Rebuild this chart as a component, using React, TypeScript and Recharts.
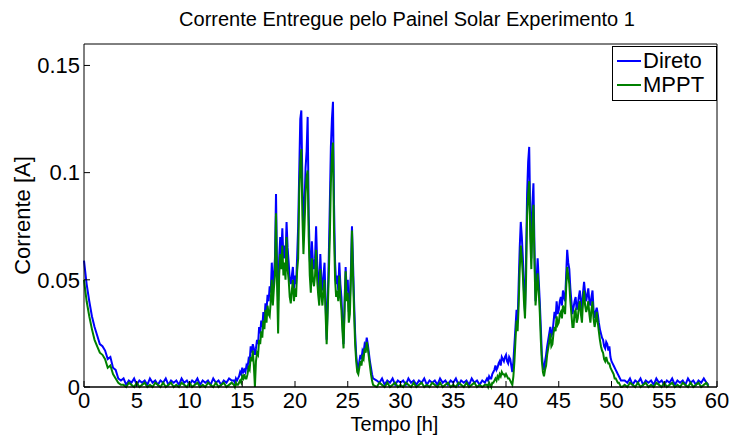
import React from 'react';
import { LineChart, Line, XAxis, YAxis, Legend, Label } from 'recharts';

// ---- Data ----
const hoursA = [0, 0.25, 0.5, 0.75, 1, 1.25, 1.5, 1.75, 2, 2.25, 2.5, 2.75, 3, 3.25, 3.5];
const diretoA = [0.059, 0.048, 0.04, 0.033, 0.028, 0.024, 0.02, 0.019, 0.017, 0.013, 0.014, 0.009, 0.008, 0.004, 0.003];
const mpptA = [0.05, 0.04, 0.033, 0.027, 0.022, 0.019, 0.016, 0.015, 0.013, 0.009, 0.01, 0.006, 0.004, 0.002, 0.001];

const hoursB = [
  3.75, 4, 4.25, 4.5, 4.75, 5, 5.25, 5.5, 5.75, 6, 6.25, 6.5, 6.75, 7, 7.25, 7.5, 7.75, 8, 8.25, 8.5, 8.75,
  9, 9.25, 9.5, 9.75, 10, 10.25, 10.5, 10.75, 11, 11.25, 11.5, 11.75, 12, 12.25, 12.5, 12.75, 13, 13.25, 13.5, 13.75, 14,
];
const diretoB = [
  0.004, 0.001, 0.003, 0.002, 0.004, 0.001, 0.003, 0.002, 0.003, 0.001, 0.004, 0.002, 0.003, 0.001, 0.003, 0.002, 0.004, 0.001, 0.003, 0.002, 0.003,
  0.001, 0.004, 0.002, 0.003, 0.001, 0.003, 0.002, 0.004, 0.001, 0.003, 0.002, 0.003, 0.001, 0.004, 0.002, 0.003, 0.001, 0.003, 0.002, 0.004, 0.003,
];
const mpptB = [
  0.001, 0.0, 0.002, 0.001, 0.0, 0.002, 0.0, 0.001, 0.002, 0.0, 0.001, 0.0, 0.002, 0.001, 0.0, 0.002, 0.0, 0.001, 0.002, 0.0, 0.001,
  0.0, 0.002, 0.001, 0.0, 0.002, 0.0, 0.001, 0.002, 0.0, 0.001, 0.0, 0.002, 0.001, 0.0, 0.002, 0.0, 0.001, 0.002, 0.0, 0.001, 0.002,
];

const hoursC = [
  14.2, 14.3, 14.4, 14.5, 14.6, 14.7, 14.8, 14.9, 15.0, 15.1, 15.2, 15.3, 15.4, 15.5, 15.6, 15.7, 15.8, 15.9, 16.0, 16.1,
  16.2, 16.3, 16.4, 16.5, 16.6, 16.7, 16.8, 16.9, 17.0, 17.1, 17.2, 17.3, 17.4, 17.5, 17.6, 17.7, 17.8, 17.9, 18.0, 18.1,
  18.2, 18.3, 18.4, 18.5, 18.6, 18.7, 18.8, 18.9, 19.0, 19.1, 19.2, 19.3, 19.4, 19.5, 19.6, 19.7, 19.8, 19.9, 20.0, 20.1,
  20.2, 20.3, 20.4, 20.5, 20.6, 20.7, 20.8, 20.9, 21.0, 21.1, 21.2, 21.3, 21.4, 21.5, 21.6, 21.7, 21.8, 21.9, 22.0, 22.1,
  22.2, 22.3, 22.4, 22.5, 22.6, 22.7, 22.8, 22.9, 23.0, 23.1, 23.2, 23.3, 23.4, 23.5, 23.6, 23.7, 23.8, 23.9, 24.0, 24.1,
  24.2, 24.3, 24.4, 24.5, 24.6, 24.7, 24.8, 24.9, 25.0, 25.1, 25.2, 25.3, 25.4, 25.5, 25.6, 25.7, 25.8, 25.9, 26.0, 26.1,
  26.2, 26.3, 26.4, 26.5, 26.6, 26.7, 26.8, 26.9, 27.0, 27.1, 27.2, 27.3, 27.4,
];
const diretoC = [
  0.003, 0.002, 0.004, 0.003, 0.004, 0.005, 0.007, 0.006, 0.009, 0.007, 0.008, 0.007, 0.01, 0.009, 0.013, 0.012, 0.019, 0.016, 0.02, 0.018,
  0.015, 0.018, 0.022, 0.02, 0.028, 0.025, 0.031, 0.028, 0.035, 0.031, 0.039, 0.036, 0.043, 0.04, 0.047, 0.044, 0.058, 0.045, 0.052, 0.06,
  0.09, 0.055, 0.04, 0.06, 0.07, 0.062, 0.074, 0.06, 0.066, 0.06, 0.077, 0.065, 0.058, 0.05, 0.048, 0.052, 0.056, 0.046, 0.052, 0.048,
  0.06, 0.075, 0.1, 0.125, 0.129, 0.095, 0.073, 0.085, 0.102, 0.11, 0.126, 0.08, 0.06, 0.05, 0.068, 0.058, 0.055, 0.06, 0.075, 0.058,
  0.05, 0.045, 0.062, 0.05, 0.045, 0.052, 0.058, 0.04, 0.022, 0.04, 0.06, 0.085, 0.112, 0.125, 0.133, 0.085, 0.058, 0.048, 0.052, 0.045,
  0.058, 0.048, 0.042, 0.03, 0.02, 0.04, 0.056, 0.045, 0.05, 0.035, 0.04, 0.055, 0.075, 0.058, 0.04, 0.025, 0.015, 0.01, 0.008, 0.012,
  0.015, 0.013, 0.017, 0.016, 0.02, 0.019, 0.023, 0.02, 0.016, 0.012, 0.009, 0.006, 0.004,
];
const mpptC = [
  0.001, 0.0, 0.002, 0.001, 0.001, 0.002, 0.003, 0.002, 0.005, 0.004, 0.006, 0.004, 0.004, 0.006, 0.009, 0.008, 0.014, 0.012, 0.017, 0.01,
  0.0, 0.012, 0.016, 0.015, 0.022, 0.02, 0.026, 0.023, 0.031, 0.027, 0.036, 0.03, 0.038, 0.034, 0.033, 0.04, 0.05, 0.038, 0.046, 0.052,
  0.081, 0.048, 0.025, 0.052, 0.062, 0.055, 0.066, 0.052, 0.058, 0.05, 0.07, 0.055, 0.05, 0.042, 0.039, 0.045, 0.05, 0.04, 0.046, 0.042,
  0.054, 0.06, 0.09, 0.105, 0.111, 0.08, 0.062, 0.075, 0.09, 0.098, 0.101, 0.07, 0.052, 0.044, 0.06, 0.05, 0.047, 0.052, 0.064, 0.05,
  0.043, 0.038, 0.055, 0.043, 0.038, 0.045, 0.05, 0.034, 0.02, 0.035, 0.052, 0.07, 0.095, 0.108, 0.114, 0.072, 0.05, 0.042, 0.045, 0.04,
  0.052, 0.042, 0.036, 0.026, 0.018, 0.036, 0.054, 0.04, 0.044, 0.03, 0.034, 0.05, 0.073, 0.052, 0.035, 0.02, 0.012, 0.007, 0.006, 0.009,
  0.012, 0.01, 0.014, 0.013, 0.018, 0.016, 0.021, 0.018, 0.014, 0.01, 0.006, 0.003, 0.001,
];

const hoursD = [
  27.75, 28, 28.25, 28.5, 28.75, 29, 29.25, 29.5, 29.75, 30, 30.25, 30.5, 30.75, 31, 31.25, 31.5, 31.75, 32, 32.25, 32.5, 32.75,
  33, 33.25, 33.5, 33.75, 34, 34.25, 34.5, 34.75, 35, 35.25, 35.5, 35.75, 36, 36.25, 36.5, 36.75, 37, 37.25, 37.5, 37.75, 38,
];
const diretoD = [
  0.003, 0.002, 0.004, 0.001, 0.003, 0.002, 0.004, 0.001, 0.003, 0.002, 0.003, 0.001, 0.004, 0.002, 0.003, 0.001, 0.003, 0.002, 0.004, 0.001, 0.003,
  0.002, 0.003, 0.001, 0.004, 0.002, 0.003, 0.001, 0.003, 0.002, 0.004, 0.001, 0.003, 0.002, 0.003, 0.001, 0.004, 0.002, 0.003, 0.001, 0.003, 0.002,
];
const mpptD = [
  0.0, 0.002, 0.001, 0.0, 0.002, 0.0, 0.001, 0.002, 0.0, 0.001, 0.0, 0.002, 0.001, 0.0, 0.002, 0.0, 0.001, 0.002, 0.0, 0.001, 0.0,
  0.002, 0.001, 0.0, 0.002, 0.0, 0.001, 0.002, 0.0, 0.001, 0.0, 0.002, 0.001, 0.0, 0.002, 0.0, 0.001, 0.002, 0.0, 0.001, 0.0, 0.001,
];

const hoursE = [
  38.2, 38.3, 38.4, 38.5, 38.6, 38.7, 38.8, 38.9, 39.0, 39.1, 39.2, 39.3, 39.4, 39.5, 39.6, 39.7, 39.8, 39.9, 40.0, 40.1,
  40.2, 40.3, 40.4, 40.5, 40.6, 40.7, 40.8, 40.9, 41.0, 41.1, 41.2, 41.3, 41.4, 41.5, 41.6, 41.7, 41.8, 41.9, 42.0, 42.1,
  42.2, 42.3, 42.4, 42.5, 42.6, 42.7, 42.8, 42.9, 43.0, 43.1, 43.2, 43.3, 43.4, 43.5, 43.6, 43.7, 43.8, 43.9, 44.0, 44.1,
  44.2, 44.3, 44.4, 44.5, 44.6, 44.7, 44.8, 44.9, 45.0, 45.1, 45.2, 45.3, 45.4, 45.5, 45.6, 45.7, 45.8, 45.9, 46.0, 46.1,
  46.2, 46.3, 46.4, 46.5, 46.6, 46.7, 46.8, 46.9, 47.0, 47.1, 47.2, 47.3, 47.4, 47.5, 47.6, 47.7, 47.8, 47.9, 48.0, 48.1,
  48.2, 48.3, 48.4, 48.5, 48.6, 48.7, 48.8, 48.9, 49.0, 49.1, 49.2, 49.3, 49.4, 49.5, 49.6, 49.7, 49.8, 49.9, 50.0, 50.1,
  50.2, 50.3, 50.4, 50.5, 50.6, 50.7, 50.8, 50.9, 51.0,
];
const diretoE = [
  0.004, 0.003, 0.005, 0.004, 0.004, 0.006, 0.007, 0.008, 0.01, 0.008, 0.009, 0.011, 0.012, 0.01, 0.014, 0.013, 0.012, 0.014, 0.015, 0.012,
  0.011, 0.014, 0.013, 0.01, 0.007, 0.012, 0.02, 0.028, 0.036, 0.03, 0.048, 0.065, 0.077, 0.07, 0.06, 0.045, 0.035, 0.06, 0.09, 0.105,
  0.112, 0.08, 0.06, 0.085, 0.095, 0.065, 0.04, 0.05, 0.06, 0.05, 0.04, 0.028, 0.015, 0.01, 0.008, 0.012, 0.015, 0.019, 0.022, 0.025,
  0.028, 0.024, 0.025, 0.03, 0.035, 0.032, 0.04, 0.034, 0.036, 0.04, 0.042, 0.038, 0.045, 0.042, 0.04, 0.052, 0.064, 0.058, 0.055, 0.046,
  0.04, 0.034, 0.037, 0.04, 0.042, 0.036, 0.038, 0.042, 0.045, 0.04, 0.036, 0.044, 0.049, 0.044, 0.04, 0.043, 0.046, 0.04, 0.038, 0.042,
  0.045, 0.036, 0.032, 0.035, 0.037, 0.034, 0.03, 0.027, 0.025, 0.023, 0.022, 0.019, 0.018, 0.021, 0.02, 0.017, 0.019, 0.014, 0.012, 0.011,
  0.01, 0.009, 0.008, 0.007, 0.006, 0.005, 0.004, 0.003, 0.003,
];
const mpptE = [
  0.001, 0.0, 0.002, 0.001, 0.0, 0.002, 0.002, 0.003, 0.004, 0.003, 0.005, 0.004, 0.006, 0.005, 0.007, 0.006, 0.006, 0.005, 0.006, 0.005,
  0.004, 0.004, 0.003, 0.002, 0.001, 0.005, 0.012, 0.022, 0.031, 0.026, 0.038, 0.055, 0.066, 0.06, 0.052, 0.04, 0.032, 0.05, 0.08, 0.09,
  0.096, 0.07, 0.055, 0.075, 0.085, 0.058, 0.038, 0.045, 0.053, 0.045, 0.035, 0.022, 0.012, 0.007, 0.005, 0.008, 0.01, 0.015, 0.018, 0.021,
  0.025, 0.019, 0.02, 0.025, 0.028, 0.026, 0.033, 0.029, 0.03, 0.034, 0.035, 0.032, 0.038, 0.036, 0.034, 0.046, 0.056, 0.052, 0.048, 0.04,
  0.034, 0.028, 0.028, 0.035, 0.036, 0.03, 0.032, 0.037, 0.04, 0.034, 0.03, 0.04, 0.045, 0.038, 0.035, 0.037, 0.04, 0.034, 0.03, 0.036,
  0.04, 0.032, 0.028, 0.031, 0.035, 0.03, 0.026, 0.022, 0.019, 0.017, 0.016, 0.013, 0.012, 0.014, 0.012, 0.011, 0.011, 0.009, 0.008, 0.007,
  0.006, 0.004, 0.004, 0.003, 0.002, 0.002, 0.001, 0.0, 0.0,
];

const hoursF = [
  51.25, 51.5, 51.75, 52, 52.25, 52.5, 52.75, 53, 53.25, 53.5, 53.75, 54, 54.25, 54.5, 54.75, 55, 55.25,
  55.5, 55.75, 56, 56.25, 56.5, 56.75, 57, 57.25, 57.5, 57.75, 58, 58.25, 58.5, 58.75, 59, 59.2,
];
const diretoF = [
  0.003, 0.002, 0.004, 0.001, 0.003, 0.002, 0.004, 0.001, 0.003, 0.002, 0.003, 0.001, 0.004, 0.002, 0.003, 0.001, 0.003,
  0.002, 0.004, 0.001, 0.003, 0.002, 0.003, 0.001, 0.004, 0.002, 0.003, 0.001, 0.003, 0.002, 0.004, 0.002, 0.001,
];
const mpptF = [
  0.001, 0.0, 0.002, 0.001, 0.0, 0.002, 0.0, 0.001, 0.002, 0.0, 0.001, 0.0, 0.002, 0.001, 0.0, 0.002, 0.0,
  0.001, 0.002, 0.0, 0.001, 0.0, 0.002, 0.001, 0.0, 0.002, 0.0, 0.001, 0.002, 0.0, 0.001, 0.002, 0.0,
];

const hours = [...hoursA, ...hoursB, ...hoursC, ...hoursD, ...hoursE, ...hoursF];
const direto = [...diretoA, ...diretoB, ...diretoC, ...diretoD, ...diretoE, ...diretoF];
const mppt = [...mpptA, ...mpptB, ...mpptC, ...mpptD, ...mpptE, ...mpptF];

const xTicks = [0, 5, 10, 15, 20, 25, 30, 35, 40, 45, 50, 55, 60];
const yTicks = [0, 0.05, 0.1, 0.15];

const title = 'Corrente Entregue pelo Painel Solar Experimento 1';
const xLabel = 'Tempo [h]';
const yLabel = 'Corrente [A]';

const data = hours.map((h, i) => ({ h, direto: direto[i], mppt: mppt[i] }));

const FONT = '"Liberation Sans", Arial, Helvetica, sans-serif';
const TICK_FONT = 22;

const LegendBox = (props: any) => {
  const payload = props.payload || [];
  return (
    <div
      style={{
        boxSizing: 'border-box',
        width: 105,
        border: '1px solid #000',
        background: '#fff',
        padding: '2px 3px 3px 4px',
        fontFamily: FONT,
        fontSize: 22,
        lineHeight: '24px',
        color: '#000',
        whiteSpace: 'nowrap',
      }}
    >
      {payload.map((p: any) => (
        <div key={p.value} style={{ display: 'flex', alignItems: 'center' }}>
          <span
            style={{
              display: 'inline-block',
              width: 24,
              height: 0,
              borderTop: `2px solid ${p.color}`,
              marginRight: 2,
            }}
          />
          <span>{p.value}</span>
        </div>
      ))}
    </div>
  );
};

export default function App() {
  return (
    <div style={{ position: 'fixed', top: 0, left: 0, width: 730, height: 436, background: '#fff', overflow: 'hidden' }}>
      <div
        style={{
          position: 'absolute',
          top: 9,
          left: 157,
          width: 500,
          textAlign: 'center',
          fontFamily: FONT,
          fontSize: 20,
          lineHeight: '20px',
          color: '#000',
          whiteSpace: 'nowrap',
        }}
      >
        {title}
      </div>
      <LineChart
        width={730}
        height={436}
        data={data}
        margin={{ top: 43, right: 12, bottom: 0, left: 0 }}
        style={{ position: 'absolute', top: 0, left: 0 }}
      >
        <XAxis
          dataKey="h"
          type="number"
          domain={[0, 60]}
          ticks={xTicks}
          interval={0}
          height={49}
          tickSize={-6}
          tickMargin={11}
          axisLine={{ stroke: '#000', strokeWidth: 1.5 }}
          tickLine={{ stroke: '#000' }}
          tick={{ fill: '#000', fontSize: TICK_FONT, fontFamily: FONT }}
        >
          <Label
            value={xLabel}
            position="insideBottom"
            offset={5}
            dx={-6}
            style={{ fill: '#000', fontSize: 20, fontFamily: FONT, textAnchor: 'middle' }}
          />
        </XAxis>
        <XAxis
          xAxisId="top"
          orientation="top"
          dataKey="h"
          type="number"
          domain={[0, 60]}
          ticks={xTicks}
          interval={0}
          height={1}
          tickSize={-6}
          tick={false}
          axisLine={{ stroke: '#000', strokeWidth: 1 }}
          tickLine={{ stroke: '#000' }}
        />
        <YAxis
          type="number"
          domain={[0, 0.16]}
          ticks={yTicks}
          interval={0}
          width={84}
          tickSize={-6}
          tickMargin={10}
          axisLine={{ stroke: '#000', strokeWidth: 1 }}
          tickLine={{ stroke: '#000' }}
          tick={{ fill: '#000', fontSize: TICK_FONT, fontFamily: FONT }}
        >
          <Label
            value={yLabel}
            angle={-90}
            position="insideLeft"
            offset={22}
            style={{ fill: '#000', fontSize: 22, fontFamily: FONT, textAnchor: 'middle' }}
          />
        </YAxis>
        <YAxis
          yAxisId="right"
          orientation="right"
          type="number"
          domain={[0, 0.16]}
          ticks={yTicks}
          interval={0}
          width={1}
          tickSize={-6}
          tick={false}
          axisLine={{ stroke: '#000', strokeWidth: 1 }}
          tickLine={{ stroke: '#000' }}
        />
        <Legend
          layout="horizontal"
          verticalAlign="middle"
          align="center"
          content={<LegendBox />}
          wrapperStyle={{ left: 612, top: 46, width: 'auto', height: 'auto' }}
        />
        <Line
          name="Direto"
          dataKey="direto"
          type="linear"
          stroke="#0000ff"
          strokeWidth={2}
          dot={false}
          activeDot={false}
          isAnimationActive={false}
        />
        <Line
          name="MPPT"
          dataKey="mppt"
          type="linear"
          stroke="#008000"
          strokeWidth={2}
          dot={false}
          activeDot={false}
          isAnimationActive={false}
        />
      </LineChart>
    </div>
  );
}
